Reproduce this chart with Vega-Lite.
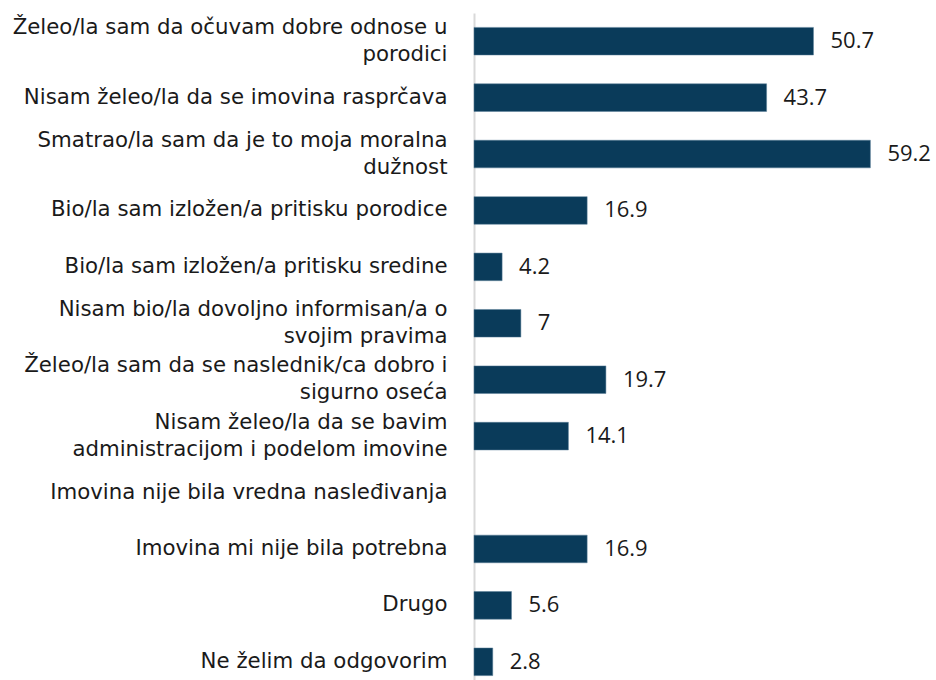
{
  "$schema": "https://vega.github.io/schema/vega-lite/v6.json",
  "autosize": "none",
  "padding": {"left": 474, "top": 13, "right": 0, "bottom": 0},
  "width": 462,
  "height": 677,
  "background": "white",
  "data": {
    "values": [
      {"label": "Želeo/la sam da očuvam dobre odnose u|porodici", "value": 50.7},
      {"label": "Nisam želeo/la da se imovina rasprčava", "value": 43.7},
      {"label": "Smatrao/la sam da je to moja moralna|dužnost", "value": 59.2},
      {"label": "Bio/la sam izložen/a pritisku porodice", "value": 16.9},
      {"label": "Bio/la sam izložen/a pritisku sredine", "value": 4.2},
      {"label": "Nisam bio/la dovoljno informisan/a o|svojim pravima", "value": 7},
      {"label": "Želeo/la sam da se naslednik/ca dobro i|sigurno oseća", "value": 19.7},
      {"label": "Nisam želeo/la da se bavim|administracijom i podelom imovine", "value": 14.1},
      {"label": "Imovina nije bila vredna nasleđivanja", "value": null},
      {"label": "Imovina mi nije bila potrebna", "value": 16.9},
      {"label": "Drugo", "value": 5.6},
      {"label": "Ne želim da odgovorim", "value": 2.8}
    ]
  },
  "encoding": {
    "y": {
      "field": "label",
      "type": "nominal",
      "sort": null,
      "scale": {
        "domain": [
          "Želeo/la sam da očuvam dobre odnose u|porodici",
          "Nisam želeo/la da se imovina rasprčava",
          "Smatrao/la sam da je to moja moralna|dužnost",
          "Bio/la sam izložen/a pritisku porodice",
          "Bio/la sam izložen/a pritisku sredine",
          "Nisam bio/la dovoljno informisan/a o|svojim pravima",
          "Želeo/la sam da se naslednik/ca dobro i|sigurno oseća",
          "Nisam želeo/la da se bavim|administracijom i podelom imovine",
          "Imovina nije bila vredna nasleđivanja",
          "Imovina mi nije bila potrebna",
          "Drugo",
          "Ne želim da odgovorim"
        ],
        "paddingInner": 0.51,
        "paddingOuter": 0.255
      },
      "axis": {
        "title": null,
        "ticks": false,
        "labelExpr": "split(datum.value, '|')",
        "labelOffset": {"condition": {"test": "indexof(datum.value, '|') >= 0", "value": -13.5}, "value": 0},
        "labelFont": "DejaVu Sans",
        "labelFontSize": 21.3,
        "labelColor": "#1a1a1a",
        "labelPadding": 27,
        "labelLineHeight": 27,
        "labelLimit": 480,
        "domainColor": "#d9d9d9",
        "domainWidth": 2
      }
    },
    "x": {
      "field": "value",
      "type": "quantitative",
      "scale": {"domain": [0, 69], "nice": false},
      "axis": null
    }
  },
  "layer": [
    {"mark": {"type": "bar", "color": "#0a3b5a", "stroke": "#5b7f99", "strokeWidth": 0.5}},
    {
      "mark": {"type": "text", "align": "left", "dx": 17, "font": "Open Sans", "fontSize": 22, "color": "#1a1a1a"},
      "encoding": {"text": {"field": "value", "type": "quantitative"}}
    }
  ],
  "config": {"view": {"stroke": null}}
}
